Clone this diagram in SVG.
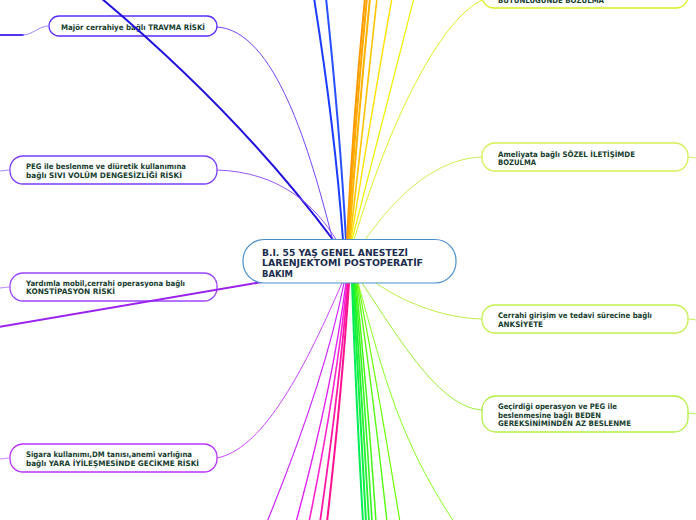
<svg xmlns="http://www.w3.org/2000/svg" width="696" height="520" viewBox="0 0 696 520">
<defs>
<style>
.c{fill:none;stroke-linecap:round}
.n{fill:#ffffff;stroke-width:1.3}
.t{font-family:"DejaVu Sans","Liberation Sans",sans-serif;font-weight:bold;font-size:7.6px;fill:#163d2e}
.ct{font-family:"DejaVu Sans","Liberation Sans",sans-serif;font-weight:bold;font-size:8.9px;fill:#1b2c4e}
</style>
</defs>
<rect width="696" height="520" fill="#ffffff"/>

<g id="node-travma">
<rect class="n" x="49" y="16" width="168" height="20" rx="10" stroke="#5a2dff"/>
<text class="t" x="61" y="29.5" textLength="144" lengthAdjust="spacingAndGlyphs">Majör cerrahiye bağlı TRAVMA RİSKİ</text>
</g>
<g id="node-sivi">
<rect class="n" x="10" y="156" width="207" height="28" rx="13" stroke="#7a3dff"/>
<text class="t" x="26" y="169" textLength="160" lengthAdjust="spacingAndGlyphs">PEG ile beslenme ve diüretik kullanımına</text>
<text class="t" x="26" y="177.5" textLength="156" lengthAdjust="spacingAndGlyphs">bağlı SIVI VOLÜM DENGESİZLİĞİ RİSKİ</text>
</g>
<g id="node-konstipasyon">
<rect class="n" x="10" y="273" width="207" height="28" rx="13" stroke="#9a45ff"/>
<text class="t" x="26" y="285.5" textLength="159" lengthAdjust="spacingAndGlyphs">Yardımla mobil,cerrahi operasyona bağlı</text>
<text class="t" x="26" y="294" textLength="89" lengthAdjust="spacingAndGlyphs">KONSTİPASYON RİSKİ</text>
</g>
<g id="node-yara">
<rect class="n" x="10" y="444" width="207" height="28" rx="13" stroke="#bb33ff"/>
<text class="t" x="26" y="457" textLength="166" lengthAdjust="spacingAndGlyphs">Sigara kullanımı,DM tanısı,anemi varlığına</text>
<text class="t" x="26" y="465.5" textLength="173" lengthAdjust="spacingAndGlyphs">bağlı YARA İYİLEŞMESİNDE GECİKME RİSKİ</text>
</g>
<g id="node-butunluk">
<rect class="n" x="482" y="-30" width="206" height="38" rx="12" stroke="#dcee22"/>
<text class="t" x="498" y="3" textLength="106" lengthAdjust="spacingAndGlyphs">BÜTÜNLÜĞÜNDE BOZULMA</text>
</g>
<g id="node-sozel">
<rect class="n" x="482" y="143" width="206" height="28" rx="13" stroke="#d6f055"/>
<text class="t" x="498" y="156.5" textLength="137" lengthAdjust="spacingAndGlyphs">Ameliyata bağlı SÖZEL İLETİŞİMDE</text>
<text class="t" x="498" y="164.8" textLength="38" lengthAdjust="spacingAndGlyphs">BOZULMA</text>
</g>
<g id="node-anksiyete">
<rect class="n" x="482" y="305" width="206" height="28" rx="13" stroke="#c4f050"/>
<text class="t" x="498" y="318" textLength="154" lengthAdjust="spacingAndGlyphs">Cerrahi girişim ve tedavi sürecine bağlı</text>
<text class="t" x="498" y="327" textLength="45" lengthAdjust="spacingAndGlyphs">ANKSİYETE</text>
</g>
<g id="node-beslenme">
<rect class="n" x="482" y="396" width="206" height="36" rx="14" stroke="#b2ee44"/>
<text class="t" x="498" y="409" textLength="119" lengthAdjust="spacingAndGlyphs">Geçirdiği operasyon ve PEG ile</text>
<text class="t" x="498" y="417.5" textLength="103" lengthAdjust="spacingAndGlyphs">beslenmesine bağlı BEDEN</text>
<text class="t" x="498" y="426" textLength="133" lengthAdjust="spacingAndGlyphs">GEREKSİNİMİNDEN AZ BESLENME</text>
</g>

<g id="connectors" class="c">
<path d="M-2,35 L23,35" stroke="#5533ee" stroke-width="2"/>
<path d="M23,35 C33,35 38,26 49,26" stroke="#9988ff" stroke-width="1"/>
<path d="M-2,171 C4,171 6,170 10,170" stroke="#a27cff" stroke-width="1"/>
<path d="M-2,288 C4,288 6,287 10,287" stroke="#b07cff" stroke-width="1"/>
<path d="M-2,459 C4,459 6,458 10,458" stroke="#cc77ff" stroke-width="1"/>
<path d="M688,157 C692,157 694,158 698,158" stroke="#d6f055" stroke-width="1"/>
<path d="M688,319 C692,319 694,320 698,320" stroke="#c4f050" stroke-width="1"/>
<path d="M688,413 C692,413 694,414 698,414" stroke="#b2ee44" stroke-width="1"/>
<path d="M334,241 Q240,115 101,-2" stroke="#2211dd" stroke-width="2"/>
<path d="M217,27 C275,30 310,150 333,241" stroke="#7744ff" stroke-width="1"/>
<path d="M217,170 C280,172 315,205 337,241" stroke="#9955ff" stroke-width="1"/>
<path d="M262,282 L-2,327" stroke="#9922ee" stroke-width="2"/>
<path d="M217,458 C260,450 300,380 342,283" stroke="#cc44ff" stroke-width="1"/>
<path d="M343,240 Q335,130 314,-2" stroke="#1a3cff" stroke-width="2"/>
<path d="M346,240 Q340,130 326,-2" stroke="#2850ff" stroke-width="2"/>
<path d="M347,240 Q353,120 365,-2" stroke="#ff9900" stroke-width="2"/>
<path d="M348,240 Q355,120 367,-2" stroke="#ffa500" stroke-width="2"/>
<path d="M349,240 Q358,120 370,-2" stroke="#ffb300" stroke-width="2"/>
<path d="M350,240 Q364,120 377,-2" stroke="#ffc400" stroke-width="1.6"/>
<path d="M351,240 Q372,110 392,-2" stroke="#ffe000" stroke-width="1.4"/>
<path d="M352,240 Q385,110 414,-2" stroke="#f0f000" stroke-width="1.2"/>
<path d="M354,240 C390,120 440,20 482,0" stroke="#e0f020" stroke-width="1"/>
<path d="M365,240 C400,190 440,158 482,157" stroke="#ccee55" stroke-width="1"/>
<path d="M376,283 C400,300 440,318 482,319" stroke="#bbee44" stroke-width="1"/>
<path d="M362,283 C400,340 440,408 482,410" stroke="#99ee33" stroke-width="1"/>
<path d="M344,283 Q325,380 267,522" stroke="#cc22ff" stroke-width="1.2"/>
<path d="M346,283 Q332,390 296,522" stroke="#e020f0" stroke-width="1.4"/>
<path d="M347,283 Q336,390 309,522" stroke="#ff22d0" stroke-width="1.6"/>
<path d="M348,283 Q339,390 320,522" stroke="#ff18a8" stroke-width="1.8"/>
<path d="M349,283 Q342,390 327,522" stroke="#ff1090" stroke-width="2"/>
<path d="M352,283 Q356,400 363,522" stroke="#00ee55" stroke-width="2"/>
<path d="M353,283 Q359,400 366,522" stroke="#10f040" stroke-width="2"/>
<path d="M354,283 Q362,400 369,522" stroke="#22f030" stroke-width="1.8"/>
<path d="M355,283 Q365,400 372,522" stroke="#33f522" stroke-width="1.6"/>
<path d="M356,283 Q368,400 376,522" stroke="#44f815" stroke-width="1.5"/>
<path d="M357,283 Q374,400 387,522" stroke="#55fa10" stroke-width="1.4"/>
<path d="M358,283 Q380,400 400,522" stroke="#66ff00" stroke-width="1.2"/>
<path d="M358,283 C385,380 400,440 454,522" stroke="#88ff22" stroke-width="1"/>
</g>

<g id="node-center">
<rect x="243" y="239.5" width="213" height="43.5" rx="21" fill="#ffffff" stroke="#4a8fcc" stroke-width="1.2"/>
<text class="ct" x="262" y="255.5" textLength="146" lengthAdjust="spacingAndGlyphs">B.I. 55 YAŞ GENEL ANESTEZİ</text>
<text class="ct" x="262" y="266" textLength="161" lengthAdjust="spacingAndGlyphs">LARENJEKTOMİ POSTOPERATİF</text>
<text class="ct" x="262" y="276.5" textLength="31" lengthAdjust="spacingAndGlyphs">BAKIM</text>
</g>
</svg>
